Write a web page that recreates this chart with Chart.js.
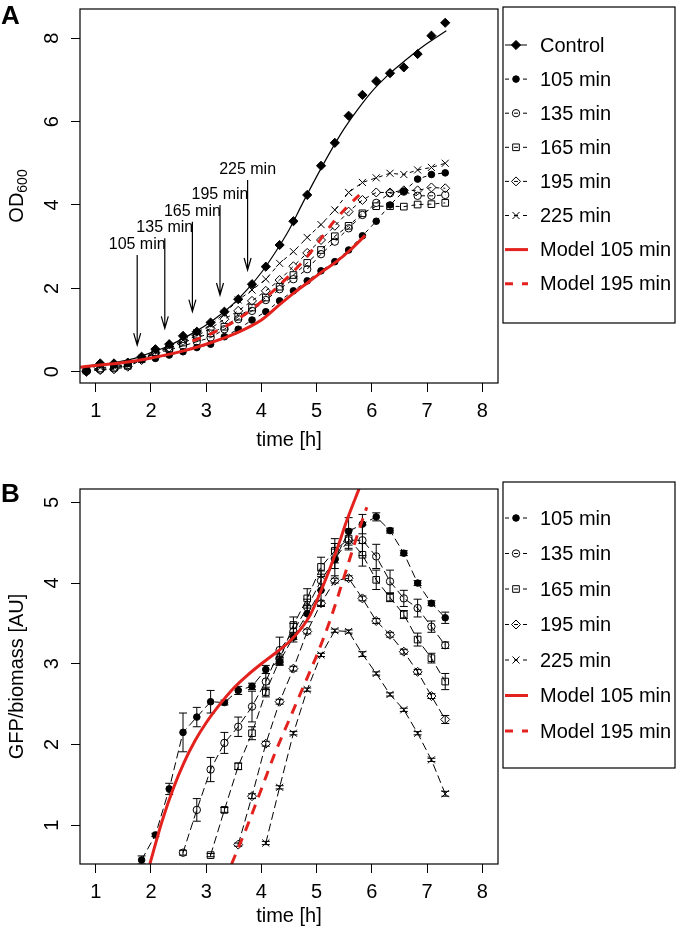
<!DOCTYPE html>
<html><head><meta charset="utf-8">
<script src="https://cdn.jsdelivr.net/npm/chart.js@4.4.1/dist/chart.umd.min.js"></script>
<style>
html,body{margin:0;padding:0;background:#fff;}
#wrap{position:relative;width:680px;height:929px;overflow:hidden;}
canvas{position:absolute;left:0;}
#ca{top:0;} #cb{top:465px;}
</style></head><body>
<div id="wrap"><canvas id="ca" width="680" height="465"></canvas><canvas id="cb" width="680" height="464"></canvas></div>
<script>
// ================= Panel A data (OD600) =================
const timeA = [0.83,1.08,1.33,1.58,1.83,2.08,2.33,2.58,2.83,3.08,3.33,3.58,3.83,4.08,4.33,4.58,4.83,5.08,5.33,5.58,5.83,6.08,6.33,6.58,6.83,7.08,7.33];
const odControl = [0.00,0.20,0.20,0.22,0.36,0.54,0.66,0.86,0.96,1.18,1.44,1.74,2.10,2.52,3.04,3.61,4.24,4.94,5.49,6.14,6.64,6.97,7.16,7.30,7.62,8.06,8.37];
const od105 = [0.02,0.18,0.17,0.20,0.30,0.32,0.40,0.48,0.58,0.66,0.84,1.02,1.24,1.44,1.70,1.94,2.18,2.42,2.64,2.92,3.26,3.61,4.00,4.33,4.62,4.73,4.77];
const od135 = [0.04,0.05,0.08,0.16,0.30,0.44,0.52,0.62,0.72,0.82,1.02,1.26,1.46,1.72,1.98,2.22,2.46,2.82,3.12,3.44,3.76,4.05,4.28,4.32,4.22,4.22,4.24];
const od165 = [0.03,0.08,0.10,0.14,0.30,0.46,0.56,0.70,0.82,0.92,1.08,1.32,1.54,1.78,2.04,2.32,2.61,2.92,3.25,3.50,3.80,3.97,3.97,3.96,4.01,4.02,4.05];
const od195 = [0.02,0.04,0.06,0.12,0.28,0.46,0.58,0.74,0.86,1.04,1.26,1.46,1.70,1.94,2.20,2.53,2.85,3.16,3.50,3.84,4.12,4.30,4.30,4.35,4.35,4.42,4.40];
const od225 = [0.03,0.10,0.12,0.18,0.32,0.48,0.60,0.76,0.94,1.12,1.40,1.72,1.96,2.22,2.60,2.88,3.22,3.53,3.88,4.30,4.54,4.65,4.76,4.73,4.84,4.90,5.00];
const fitTime = [0.83,1.25,1.5,1.75,2.0,2.25,2.5,2.75,3.0,3.25,3.5,3.75,4.0,4.25,4.5,4.75,5.0,5.25,5.5,5.75,6.0,6.25,6.5,6.75,7.0,7.35];
const fitControl = [0.14,0.20,0.26,0.34,0.46,0.58,0.74,0.92,1.12,1.36,1.64,1.98,2.38,2.86,3.40,4.05,4.68,5.28,5.83,6.30,6.72,7.06,7.35,7.62,7.87,8.18];
const modelA105Time = [0.72,1.0,1.5,2.0,2.5,3.0,3.5,4.0,4.34,4.62,4.86,5.12,5.36,5.61,5.88];
const modelA105 = [0.11,0.15,0.22,0.33,0.47,0.66,0.90,1.24,1.62,1.92,2.16,2.42,2.64,2.92,3.27];
const modelA195Time = [2.75,3.0,3.25,3.5,3.75,4.0,4.25,4.5,4.75,5.0,5.25,5.5,5.82];
const modelA195 = [0.74,0.86,1.02,1.20,1.42,1.68,1.98,2.30,2.64,3.05,3.50,3.88,4.30];
const arrowTime = [1.75,2.25,2.75,3.25,3.75];
const arrowTop = [2.80,3.20,3.60,4.00,4.60];
const arrowTip = [0.64,1.04,1.44,1.84,2.44];
const arrowLabel = ['105 min','135 min','165 min','195 min','225 min'];
const legendA = ['Control','105 min','135 min','165 min','195 min','225 min','Model 105 min','Model 195 min'];

// ================= Panel B data (GFP/biomass) =================
const t105B = [1.83,2.08,2.33,2.58,2.83,3.08,3.33,3.58,3.83,4.08,4.33,4.58,4.83,5.08,5.33,5.58,5.83,6.08,6.33,6.58,6.83,7.08,7.33];
const g105 = [0.57,0.88,1.45,2.15,2.34,2.53,2.52,2.67,2.72,2.93,3.03,3.33,3.62,3.91,4.29,4.64,4.73,4.82,4.65,4.37,4.00,3.75,3.57];
const e105 = [0.05,0.02,0.07,0.24,0.12,0.14,0.03,0.05,0.04,0.05,0.05,0.06,0.10,0.20,0.20,0.17,0.12,0.05,0.03,0.03,0.03,0.03,0.07];
const t135B = [2.58,2.83,3.08,3.33,3.58,3.83,4.08,4.33,4.58,4.83,5.08,5.33,5.58,5.83,6.08,6.33,6.58,6.83,7.08,7.33];
const g135 = [0.66,1.19,1.69,2.02,2.22,2.47,2.78,3.17,3.40,3.70,4.03,4.30,4.53,4.53,4.33,4.02,3.81,3.69,3.46,3.23];
const e135 = [0.03,0.14,0.15,0.13,0.12,0.19,0.10,0.16,0.10,0.10,0.12,0.12,0.12,0.19,0.15,0.14,0.10,0.11,0.07,0.04];
const t165B = [3.08,3.33,3.58,3.83,4.08,4.33,4.58,4.83,5.08,5.33,5.58,5.83,6.08,6.33,6.58,6.83,7.08,7.33];
const g165 = [0.63,1.19,1.73,2.14,2.65,3.05,3.48,3.81,4.20,4.40,4.55,4.35,4.04,3.82,3.61,3.30,3.07,2.78];
const e165 = [0.02,0.03,0.04,0.08,0.06,0.06,0.10,0.12,0.12,0.15,0.12,0.14,0.12,0.05,0.05,0.08,0.06,0.10];
const t195B = [3.58,3.83,4.08,4.33,4.58,4.83,5.08,5.33,5.58,5.83,6.08,6.33,6.58,6.83,7.08,7.33];
const g195 = [0.76,1.36,2.01,2.53,2.94,3.40,3.75,4.03,4.06,3.81,3.53,3.36,3.15,2.90,2.60,2.31];
const e195 = [0.02,0.03,0.03,0.03,0.03,0.03,0.03,0.03,0.03,0.03,0.03,0.03,0.03,0.03,0.03,0.05];
const t225B = [4.08,4.33,4.58,4.83,5.08,5.33,5.58,5.83,6.08,6.33,6.58,6.83,7.08,7.33];
const g225 = [0.78,1.47,2.14,2.68,3.11,3.41,3.40,3.12,2.88,2.62,2.43,2.14,1.81,1.39];
const e225 = [0.02,0.02,0.02,0.02,0.02,0.02,0.02,0.03,0.02,0.02,0.02,0.02,0.02,0.03];
const modelB105Time = [1.98,2.2,2.4,2.6,2.8,3.0,3.25,3.5,3.75,4.0,4.25,4.5,4.7,4.88,5.12,5.36,5.55,5.77];
const modelB105 = [0.52,1.05,1.45,1.78,2.05,2.27,2.50,2.70,2.86,3.00,3.13,3.27,3.42,3.60,3.97,4.40,4.78,5.17];
const modelB195Time = [3.46,3.75,4.0,4.25,4.5,4.75,5.0,5.25,5.5,5.75,5.91];
const modelB195 = [0.52,1.00,1.45,1.90,2.30,2.70,3.10,3.55,4.08,4.62,4.94];
const legendB = ['105 min','135 min','165 min','195 min','225 min','Model 105 min','Model 195 min'];

// ================= Tick labels =================
const xTicks = [1,2,3,4,5,6,7,8];
const yTicksA = [0,2,4,6,8];
const yTicksB = [1,2,3,4,5];

// ================= Rendering =================
const RED = '#e3221e';
const FONT = '"Liberation Sans", Arial, Helvetica, sans-serif';
const xy = (xs, ys) => xs.map((x, i) => ({x: x, y: ys[i]}));
const CLEAR = 'rgba(0,0,0,0)';

const mk = {
  control: {pointStyle:'rectRot', pointRadius:4.6, pointBackgroundColor:'#000', pointBorderWidth:1},
  s105: {pointStyle:'circle', pointRadius:3.3, pointBackgroundColor:'#000', pointBorderWidth:1},
  s135: {pointStyle:'circle', pointRadius:3.7, pointBackgroundColor:CLEAR, pointBorderWidth:1},
  s165: {pointStyle:'rect', pointRadius:4.7, pointBackgroundColor:CLEAR, pointBorderWidth:1},
  s195: {pointStyle:'rectRot', pointRadius:4.5, pointBackgroundColor:CLEAR, pointBorderWidth:1},
  s225: {pointStyle:'crossRot', pointRadius:5, pointBackgroundColor:CLEAR, pointBorderWidth:1}
};

function series(label, data, style, dash, order) {
  return Object.assign({label: label, data: data, borderColor:'#000', pointBorderColor:'#000', borderWidth:1,
    borderDash: dash, fill:false, tension:0, order: order, pointHoverRadius: 0}, style);
}
function curve(label, data, color, width, dash, order) {
  return {label: label, data: data, borderColor: color, borderWidth: width, borderDash: dash, pointRadius: 0,
    pointHoverRadius: 0, fill:false, cubicInterpolationMode:'monotone', order: order, borderCapStyle:'butt'};
}

function baseOptions(cfg) {
  return {
    responsive:false, maintainAspectRatio:false, animation:false, devicePixelRatio:1,
    events: [],
    layout:{padding:{left:0, right:182, top:cfg.padTop, bottom:0}},
    plugins:{legend:{display:false}, tooltip:{enabled:false}},
    scales:{
      x:{type:'linear', min:0.714, max:8.286,
         afterBuildTicks(s){ s.ticks = xTicks.map(v => ({value:v})); },
         ticks:{display:false},
         grid:{drawOnChartArea:false, drawTicks:true, tickLength:9, color:'#000', lineWidth:1},
         border:{display:false},
         afterFit(s){ s.height = cfg.xAxisH; }},
      y:{type:'linear', min:cfg.yMin, max:cfg.yMax,
         afterBuildTicks(s){ s.ticks = cfg.yTicks.map(v => ({value:v})); },
         ticks:{display:false},
         grid:{drawOnChartArea:false, drawTicks:true, tickLength:9, color:'#000', lineWidth:1},
         border:{display:false},
         afterFit(s){ s.width = 80; }}
    }
  };
}

function drawMarker(ctx, ds, x, y) {
  ctx.save();
  ctx.strokeStyle = '#000';
  ctx.fillStyle = ds.pointBackgroundColor || '#000';
  ctx.lineWidth = 1;
  ctx.setLineDash([]);
  Chart.helpers.drawPoint(ctx, {pointStyle: ds.pointStyle, radius: ds.pointRadius, rotation: 0, borderWidth: 1}, x, y);
  ctx.restore();
}

function makeDecor(cfg) {
  return {
    id: 'decor',
    afterDatasetDraw(chart, args) {
      const err = cfg.errors ? cfg.errors[args.index] : null;
      if (!err) return;
      const ds = chart.data.datasets[args.index];
      const xs = chart.scales.x, ys = chart.scales.y, ca = chart.chartArea, ctx = chart.ctx;
      ctx.save();
      ctx.beginPath(); ctx.rect(ca.left, ca.top, ca.right - ca.left, ca.bottom - ca.top); ctx.clip();
      ctx.strokeStyle = '#000'; ctx.lineWidth = 1; ctx.setLineDash([]);
      ds.data.forEach((p, i) => {
        const x = xs.getPixelForValue(p.x);
        const y1 = ys.getPixelForValue(p.y - err[i]);
        const y2 = ys.getPixelForValue(p.y + err[i]);
        ctx.beginPath();
        ctx.moveTo(x, y1); ctx.lineTo(x, y2);
        ctx.moveTo(x - 4, y1); ctx.lineTo(x + 4, y1);
        ctx.moveTo(x - 4, y2); ctx.lineTo(x + 4, y2);
        ctx.stroke();
      });
      ctx.restore();
    },
    afterDraw(chart) {
      const ctx = chart.ctx, ca = chart.chartArea, xs = chart.scales.x, ys = chart.scales.y;
      ctx.save();
      ctx.setLineDash([]);
      // plot frame
      ctx.strokeStyle = '#000'; ctx.lineWidth = 1.2;
      ctx.strokeRect(ca.left, ca.top, ca.right - ca.left, ca.bottom - ca.top);
      ctx.fillStyle = '#000';
      // x tick labels
      ctx.font = '20px ' + FONT; ctx.textAlign = 'center'; ctx.textBaseline = 'alphabetic';
      xs.ticks.forEach(t => ctx.fillText(String(t.value), xs.getPixelForValue(t.value), ca.bottom + 33.5));
      // y tick labels (rotated, as in R)
      ys.ticks.forEach(t => {
        ctx.save(); ctx.translate(58, ys.getPixelForValue(t.value)); ctx.rotate(-Math.PI / 2);
        ctx.fillText(String(t.value), 0, 0); ctx.restore();
      });
      // x title
      ctx.fillText('time [h]', (ca.left + ca.right) / 2, ca.bottom + cfg.xTitleGap);
      // y title
      ctx.save(); ctx.translate(23, (ca.top + ca.bottom) / 2); ctx.rotate(-Math.PI / 2);
      if (cfg.yTitleSub) {
        ctx.font = '20px ' + FONT; const w1 = ctx.measureText(cfg.yTitle).width;
        ctx.font = '14px ' + FONT; const w2 = ctx.measureText(cfg.yTitleSub).width;
        const s = -(w1 + w2) / 2;
        ctx.textAlign = 'left';
        ctx.font = '20px ' + FONT; ctx.fillText(cfg.yTitle, s, 0);
        ctx.font = '14px ' + FONT; ctx.fillText(cfg.yTitleSub, s + w1, 4);
      } else {
        ctx.font = '20px ' + FONT; ctx.textAlign = 'center'; ctx.fillText(cfg.yTitle, 0, 0);
      }
      ctx.restore();
      // panel letter
      ctx.font = 'bold 26px ' + FONT; ctx.textAlign = 'left';
      ctx.fillText(cfg.letter, 1, cfg.letterY);
      // legend
      const L = cfg.legend;
      ctx.strokeStyle = '#000'; ctx.lineWidth = 1.2;
      ctx.strokeRect(503, L.top, 172, L.h);
      L.items.forEach((it, i) => {
        const y = L.top + L.first + i * L.step;
        const ds = chart.data.datasets[it.ds];
        ctx.save();
        if (it.model) {
          ctx.strokeStyle = RED; ctx.lineWidth = 3; ctx.setLineDash(it.dash);
          ctx.beginPath(); ctx.moveTo(505, y); ctx.lineTo(528, y); ctx.stroke();
        } else {
          ctx.strokeStyle = '#000'; ctx.lineWidth = 1; ctx.setLineDash(it.dash);
          ctx.beginPath(); ctx.moveTo(505, y); ctx.lineTo(527, y); ctx.stroke();
          drawMarker(ctx, ds, 516, y);
        }
        ctx.restore();
        ctx.fillStyle = '#000'; ctx.font = '20px ' + FONT; ctx.textAlign = 'left'; ctx.textBaseline = 'middle';
        ctx.fillText(it.text, 540, y + 1);
      });
      ctx.textBaseline = 'alphabetic';
      if (cfg.extra) cfg.extra(chart);
      ctx.restore();
    }
  };
}

// ---------- Chart A ----------
const dsA = [
  series('Control', xy(timeA, odControl), Object.assign({showLine:false}, mk.control), [], 3),
  curve('Control fit', xy(fitTime, fitControl), '#000', 1.2, [], 3),
  series('105 min', xy(timeA, od105), mk.s105, [4,4], 2),
  series('135 min', xy(timeA, od135), mk.s135, [4,4], 2),
  series('165 min', xy(timeA, od165), mk.s165, [4,4], 2),
  series('195 min', xy(timeA, od195), mk.s195, [4,4], 2),
  series('225 min', xy(timeA, od225), mk.s225, [4,4], 2),
  curve('Model 105 min', xy(modelA105Time, modelA105), RED, 3, [], 0),
  curve('Model 195 min', xy(modelA195Time, modelA195), RED, 3, [9,9], 0)
];
const dashPts = [4,5];
const cfgA = {
  padTop: 9, xAxisH: 82, yMin: -0.27, yMax: 8.70, yTicks: yTicksA,
  xTitleGap: 62.5, yTitle: 'OD', yTitleSub: '600', letter: 'A', letterY: 24,
  legend: {top: 7, h: 316, first: 38, step: 34.1, items: legendA.map((t, i) => {
    const idx = i === 0 ? 0 : i + 1;
    return {text: t, ds: idx, model: i >= 6, dash: i === 0 ? [] : (i === 7 ? [8,9] : (i === 6 ? [] : dashPts))};
  })},
  extra(chart) {
    const ctx = chart.ctx, xs = chart.scales.x, ys = chart.scales.y;
    ctx.save();
    ctx.strokeStyle = '#000'; ctx.lineWidth = 1.2; ctx.setLineDash([]);
    ctx.fillStyle = '#000'; ctx.font = '16px ' + FONT; ctx.textAlign = 'center'; ctx.textBaseline = 'alphabetic';
    arrowTime.forEach((t, i) => {
      const x = xs.getPixelForValue(t), y0 = ys.getPixelForValue(arrowTop[i]), y1 = ys.getPixelForValue(arrowTip[i]);
      ctx.beginPath(); ctx.moveTo(x, y0); ctx.lineTo(x, y1);
      ctx.moveTo(x - 3.5, y1 - 12); ctx.lineTo(x, y1); ctx.lineTo(x + 3.5, y1 - 12);
      ctx.stroke();
      ctx.fillText(arrowLabel[i], x, y0 - 6);
    });
    ctx.restore();
  }
};
const chartA = new Chart(document.getElementById('ca'), {
  type: 'line',
  data: {datasets: dsA},
  options: baseOptions(cfgA),
  plugins: [makeDecor(cfgA)]
});

// ---------- Chart B ----------
const dashB = [8,4];
const dsB = [
  series('105 min', xy(t105B, g105), mk.s105, dashB, 2),
  series('135 min', xy(t135B, g135), mk.s135, dashB, 2),
  series('165 min', xy(t165B, g165), mk.s165, dashB, 2),
  series('195 min', xy(t195B, g195), mk.s195, dashB, 2),
  series('225 min', xy(t225B, g225), mk.s225, dashB, 2),
  curve('Model 105 min', xy(modelB105Time, modelB105), RED, 3, [], 0),
  curve('Model 195 min', xy(modelB195Time, modelB195), RED, 3, [10,8], 0)
];
const cfgB = {
  padTop: 24, xAxisH: 65, yMin: 0.52, yMax: 5.165, yTicks: yTicksB,
  xTitleGap: 57.5, yTitle: 'GFP/biomass [AU]', yTitleSub: null, letter: 'B', letterY: 37,
  errors: {0: e105, 1: e135, 2: e165, 3: e195, 4: e225},
  legend: {top: 17, h: 286, first: 36, step: 35.5, items: legendB.map((t, i) => ({
    text: t, ds: i, model: i >= 5, dash: i === 6 ? [8,9] : (i === 5 ? [] : dashPts)
  }))}
};
const chartB = new Chart(document.getElementById('cb'), {
  type: 'line',
  data: {datasets: dsB},
  options: baseOptions(cfgB),
  plugins: [makeDecor(cfgB)]
});
</script>
</body></html>
